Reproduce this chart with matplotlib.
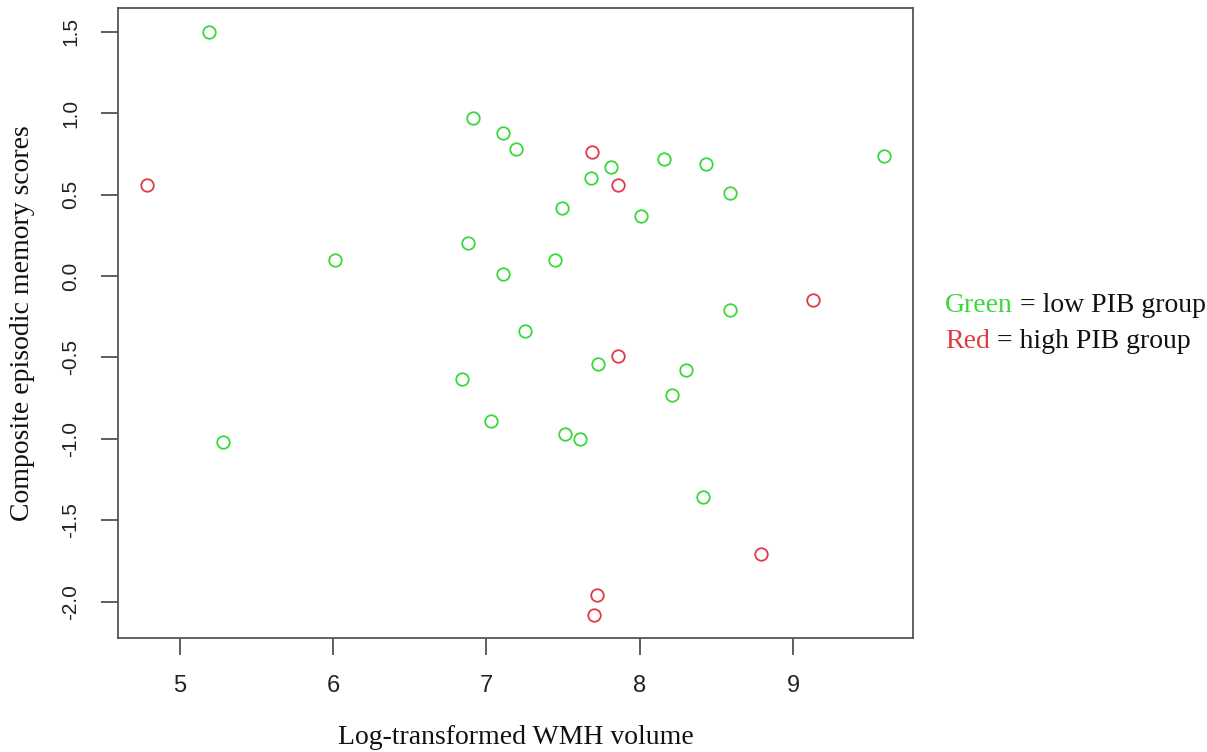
import matplotlib
matplotlib.use("Agg")
import matplotlib.pyplot as plt

# Low PIB group (green)
green_x = [5.19, 6.91, 7.11, 7.19, 8.16, 8.43, 7.81, 7.68, 8.59, 7.49, 8.01,
           6.88, 7.45, 7.11, 8.59, 7.25, 7.73, 8.30, 6.84, 8.21, 7.03, 7.51,
           7.61, 5.28, 6.01, 9.59, 8.41]
green_y = [1.50, 0.97, 0.88, 0.78, 0.72, 0.69, 0.67, 0.60, 0.51, 0.42, 0.37,
           0.20, 0.10, 0.01, -0.21, -0.34, -0.54, -0.58, -0.63, -0.73, -0.89, -0.97,
           -1.00, -1.02, 0.10, 0.74, -1.36]
# High PIB group (red)
red_x = [4.79, 7.69, 7.86, 9.13, 7.86, 8.79, 7.72, 7.70]
red_y = [0.56, 0.76, 0.56, -0.15, -0.49, -1.71, -1.96, -2.08]

x_ticks = [5, 6, 7, 8, 9]
y_ticks = [-2.0, -1.5, -1.0, -0.5, 0.0, 0.5, 1.0, 1.5]
y_tick_labels = ["-2.0", "-1.5", "-1.0", "-0.5", "0.0", "0.5", "1.0", "1.5"]

GREEN = "#3ad83a"
RED = "#e23a44"
SERIF = "Liberation Serif"
SANS = "Liberation Sans"

fig = plt.figure(figsize=(12.07, 7.52), dpi=100)
ax = fig.add_axes([0.0978, 0.1516, 0.6586, 0.8371])

ax.plot(green_x, green_y, linestyle="none", marker="o", markersize=9,
        markerfacecolor="none", markeredgecolor=GREEN, markeredgewidth=1.3)
ax.plot(red_x, red_y, linestyle="none", marker="o", markersize=9,
        markerfacecolor="none", markeredgecolor=RED, markeredgewidth=1.3)

# R-style 4% padding of the data range
allx = green_x + red_x
ally = green_y + red_y
dx = (max(allx) - min(allx)) * 0.04
dy = (max(ally) - min(ally)) * 0.04
ax.set_xlim(min(allx) - dx, max(allx) + dx)
ax.set_ylim(min(ally) - dy, max(ally) + dy)

ax.set_xticks(x_ticks)
ax.set_xticklabels([str(t) for t in x_ticks], fontfamily=SANS, fontsize=17, color="#222222")
ax.set_yticks(y_ticks)
ax.set_yticklabels(y_tick_labels, fontfamily=SANS, fontsize=15, color="#222222",
                   rotation=90, va="center")
ax.tick_params(axis="x", direction="out", length=12, width=1.1, color="#333333", pad=15)
ax.tick_params(axis="y", direction="out", length=12, width=1.1, color="#333333", pad=15)

for s in ax.spines.values():
    s.set_color("#555555")
    s.set_linewidth(1.3)

ax.set_xlabel("Log-transformed WMH volume", fontfamily=SERIF, fontsize=20,
              color="#111111", labelpad=20)
ax.set_ylabel("Composite episodic memory scores", fontfamily=SERIF, fontsize=20,
              color="#111111", labelpad=19)

# Legend text (two-colour lines), runs placed by measuring rendered widths
fig.canvas.draw()
renderer = fig.canvas.get_renderer()
LEG_FS = 20
x0 = 945 / 1207

def run_line(y_px, parts):
    x = x0
    for txt, col in parts:
        t = fig.text(x, 1 - y_px / 752, txt, color=col, fontfamily=SERIF,
                     fontsize=LEG_FS, va="center", ha="left")
        bb = t.get_window_extent(renderer=renderer)
        x = bb.x1 / fig.bbox.width

run_line(305, [("Green", GREEN), (" = low PIB group", "#111111")])
run_line(342, [("Red", RED), (" = high PIB group", "#111111")])

fig.savefig("out.png", dpi=100, facecolor="white")
